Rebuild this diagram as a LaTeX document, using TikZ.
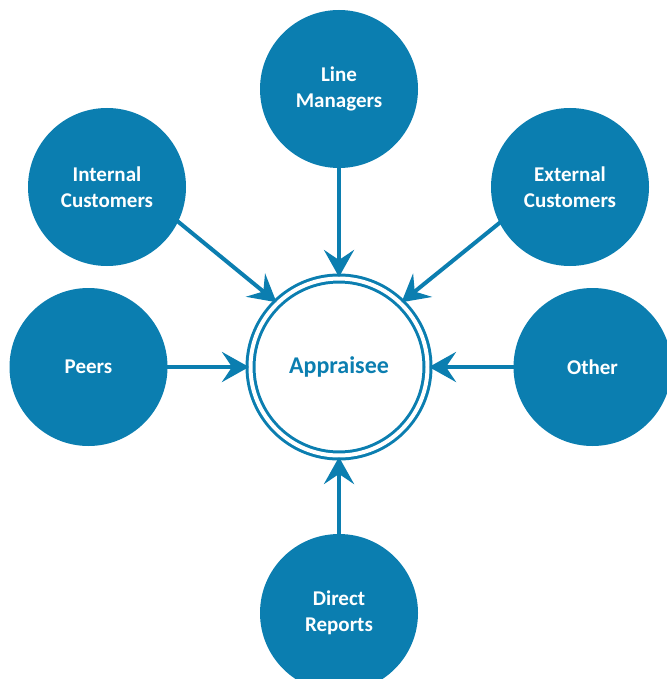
\documentclass[tikz,border=0pt]{standalone}
\usepackage{fontspec}
\setmainfont{Carlito}
\usetikzlibrary{arrows.meta}
\definecolor{mainblue}{RGB}{11,126,176}
\tikzset{
  src/.style={circle, fill=mainblue, minimum size=158pt, inner sep=0pt, text=white,
    font=\fontsize{21}{26}\selectfont\bfseries, align=center},
  center/.style={circle, draw=mainblue, line width=3pt, double=white, double distance=4pt,
    minimum size=177pt, inner sep=0pt, text=mainblue, font=\fontsize{24}{28}\selectfont\bfseries},
  conn/.style={draw=mainblue, line width=4pt,
    -{Stealth[length=27pt, width=30pt, inset=10pt]}, shorten <=-2pt}
}
\begin{document}
\begin{tikzpicture}[x=1pt,y=-1pt]
\useasboundingbox (0,0) rectangle (666,679);
\node[center] (app) at (339,367) {Appraisee};
\node[src] (lm) at (339,89) {Line\\Managers};
\node[src] (ic) at (107,187) {Internal\\Customers};
\node[src] (ec) at (570,187) {External\\Customers};
\node[src] (pe) at (88.5,367) {Peers};
\node[src] (ot) at (592.5,367) {Other};
\node[src] (dr) at (339,613) {Direct\\Reports};
\draw[conn] (lm) -- (app);
\draw[conn] (ic.-26) -- (app.134);
\draw[conn] (ec.207) -- (app.46);
\draw[conn] (pe) -- (app);
\draw[conn] (ot) -- (app);
\draw[conn] (dr) -- (app);
\end{tikzpicture}
\end{document}
